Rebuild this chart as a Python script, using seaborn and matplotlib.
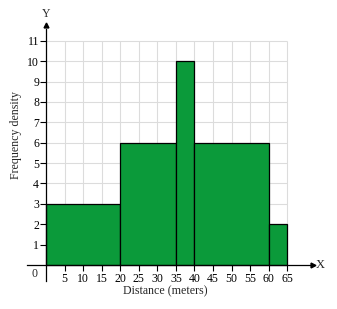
import matplotlib
matplotlib.use("Agg")
import matplotlib.pyplot as plt
import seaborn as sns
import numpy as np
import pandas as pd

# Data
bin_edges = [0, 20, 35, 40, 60, 65]
freq_density = [3, 6, 10, 6, 2]
x_ticks = [5, 10, 15, 20, 25, 30, 35, 40, 45, 50, 55, 60, 65]
y_ticks = [1, 2, 3, 4, 5, 6, 7, 8, 9, 10, 11]

widths = np.diff(bin_edges)
mids = [(a + b) / 2 for a, b in zip(bin_edges[:-1], bin_edges[1:])]
df = pd.DataFrame({"distance": mids, "freq": np.array(freq_density) * widths})

sns.set_theme(style="white")
plt.rcParams["font.family"] = ["Liberation Serif", "DejaVu Serif"]

fig = plt.figure(figsize=(3.37, 3.09), dpi=100)
ax = fig.add_axes([0, 0, 1, 1])
ax.set_xlim(-12.4, 78.4)
ax.set_ylim(-2.16, 13.0)

# grid
ax.vlines(x_ticks, 0, 11, color="#dcdcdc", lw=0.8, zorder=0)
ax.hlines(y_ticks, 0, 65, color="#dcdcdc", lw=0.8, zorder=0)

sns.histplot(data=df, x="distance", weights="freq", bins=bin_edges,
             stat="frequency", color="#0b9a3a", alpha=1, edgecolor="black",
             linewidth=0.9, ax=ax, zorder=2)
ax.set_xlabel("")
ax.set_ylabel("")

for s in ["top", "right"]:
    ax.spines[s].set_visible(False)
ax.spines["left"].set_position(("data", 0))
ax.spines["bottom"].set_position(("data", 0))
ax.spines["left"].set_bounds(-0.8, 11.6)
ax.spines["bottom"].set_bounds(-5, 71.5)
for s in ["left", "bottom"]:
    ax.spines[s].set_color("black")
    ax.spines[s].set_linewidth(0.9)
    ax.spines[s].set_zorder(3)

# arrows
ax.plot([0], [11.75], marker="^", color="black", ms=3.5, clip_on=False, zorder=4)
ax.plot([71.8], [0], marker=">", color="black", ms=3.5, clip_on=False, zorder=4)
ax.text(0, 12.0, "Y", ha="center", va="bottom", fontsize=8.5)
ax.text(72.8, 0, "X", ha="left", va="center", fontsize=9)

ax.set_xticks(x_ticks)
ax.set_xticklabels([str(t) for t in x_ticks])
ax.set_yticks(y_ticks)
ax.set_yticklabels([str(t) for t in y_ticks])
ax.tick_params(axis="x", direction="out", length=4, width=0.8, pad=2,
               labelsize=8.5, colors="black", bottom=True)
ax.tick_params(axis="y", direction="out", length=4, width=0.8, pad=1,
               labelsize=8.5, colors="black", left=True)
ax.text(-2.3, -0.45, "0", ha="right", va="center", fontsize=8.5)

fig.text(16 / 337, 1 - 135 / 309, "Frequency density", rotation=90,
         ha="center", va="center", fontsize=8.6)
fig.text(165 / 337, 1 - 291 / 309, "Distance (meters)", ha="center",
         va="center", fontsize=8.6)

fig.savefig("out.png", dpi=100)
